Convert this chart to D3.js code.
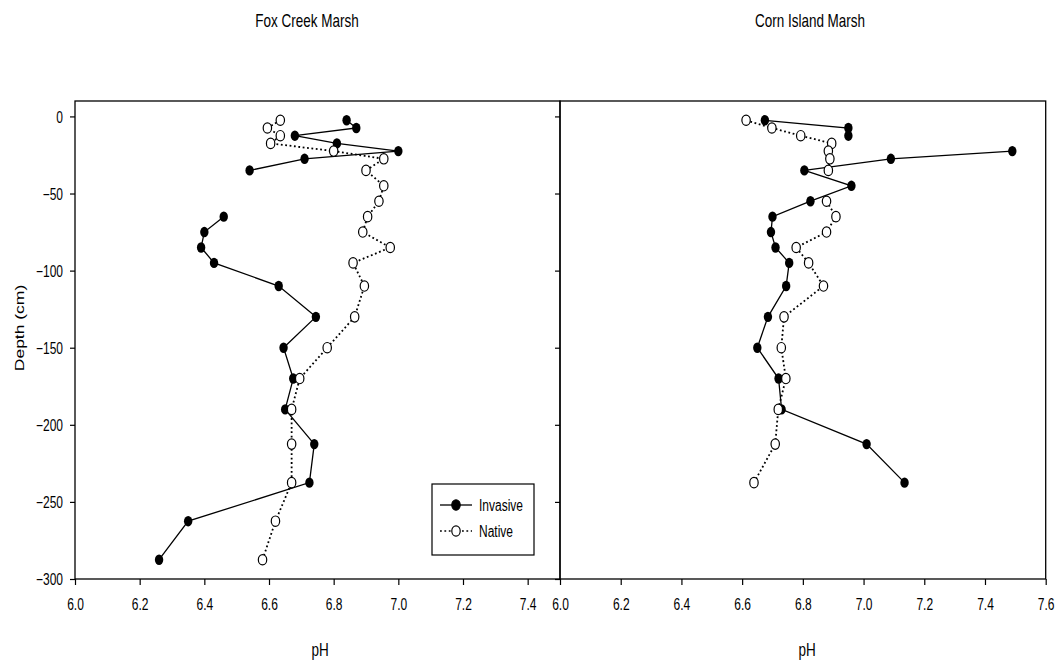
<!DOCTYPE html>
<html>
<head>
<meta charset="utf-8">
<script src="https://cdn.jsdelivr.net/npm/d3@7"></script>
<style>
  html, body { margin: 0; padding: 0; background: #fff; }
  svg { display: block; }
  text { font-family: "Liberation Sans", Arial, Helvetica, sans-serif; fill: #000; }
</style>
</head>
<body>
<svg id="chart" width="1061" height="667"></svg>
<script>
// Soil pH profiles by depth (cm) at two marshes, invasive vs native stands.
const foxDepth = [-2.5, -7.5, -12.5, -17.5, -22.5, -27.5, -35, -45, -55, -65, -75, -85, -95,
                  -110, -130, -150, -170, -190, -212.5, -237.5, -262.5, -287.5];
const foxInvasive = [6.84, 6.87, 6.68, 6.81, 7.00, 6.71, 6.54, null, null, 6.46, 6.40, 6.39, 6.43,
                     6.63, 6.745, 6.645, 6.675, 6.65, 6.74, 6.725, 6.35, 6.26];
const foxNative = [6.635, 6.595, 6.635, 6.605, 6.80, 6.955, 6.90, 6.955, 6.94, 6.905, 6.89, 6.975, 6.86,
                   6.895, 6.865, 6.78, 6.695, 6.67, 6.67, 6.67, 6.62, 6.58];

const cornDepth = [-2.5, -7.5, -12.5, -17.5, -22.5, -27.5, -35, -45, -55, -65, -75, -85, -95,
                   -110, -130, -150, -170, -190, -212.5, -237.5];
const cornInvasive = [6.675, 6.95, 6.95, null, 7.49, 7.09, 6.805, 6.96, 6.825, 6.70, 6.695, 6.71, 6.755,
                      6.745, 6.685, 6.65, 6.72, 6.73, 7.01, 7.135];
const cornNative = [6.613, 6.698, 6.793, 6.895, 6.884, 6.889, 6.884, null, 6.878, 6.909, 6.878, 6.778, 6.819,
                    6.868, 6.738, 6.729, 6.744, 6.719, 6.709, 6.639];

const panelTitles = ["Fox Creek Marsh", "Corn Island Marsh"];
const foxTicks = [6.0, 6.2, 6.4, 6.6, 6.8, 7.0, 7.2, 7.4];
const cornTicks = [6.0, 6.2, 6.4, 6.6, 6.8, 7.0, 7.2, 7.4, 7.6];
const depthTicks = [0, -50, -100, -150, -200, -250, -300];
const seriesNames = ["Invasive", "Native"];

const SX = 0.75; // horizontal squeeze applied to all lettering
const svg = d3.select("#chart");

const plotTop = 101, plotBottom = 579;
const y = d3.scaleLinear().domain([10, -300]).range([plotTop, plotBottom]);

const panels = [
  { title: panelTitles[0], depth: foxDepth, inv: foxInvasive, nat: foxNative,
    x: d3.scaleLinear().domain([6.0, 7.5]).range([75, 560]), ticks: foxTicks,
    titleX: 307, phX: 320, yLabels: true },
  { title: panelTitles[1], depth: cornDepth, inv: cornInvasive, nat: cornNative,
    x: d3.scaleLinear().domain([6.0, 7.6]).range([560, 1045.7]), ticks: cornTicks,
    titleX: 810, phX: 807, yLabels: false }
];

function label(sel, x, yPos, str, size, anchor, rot) {
  return sel.append("text")
    .attr("transform", `translate(${x},${yPos}) scale(${SX},1)` + (rot ? ` rotate(${rot})` : ""))
    .attr("text-anchor", anchor || "middle")
    .style("font-size", size + "px")
    .text(str);
}

panels.forEach(p => {
  const g = svg.append("g");
  const [x0, x1] = p.x.range();

  // x axis
  const xAxis = d3.axisBottom(p.x).tickValues(p.ticks).tickFormat(d3.format(".1f"))
    .tickSize(6).tickSizeOuter(0);
  const gx = g.append("g").attr("transform", `translate(0,${plotBottom})`).call(xAxis);
  gx.select(".domain").remove();
  gx.selectAll("line").attr("stroke", "#000").attr("stroke-width", 1.2);
  gx.selectAll("text")
    .attr("y", 31).attr("dy", 0)
    .attr("transform", `scale(${SX},1)`)
    .style("font-size", "16px").style("font-family", "'Liberation Sans', Arial, sans-serif");

  // y axis
  const yAxis = d3.axisLeft(y).tickValues(depthTicks).tickFormat(d3.format("d"))
    .tickSize(5).tickSizeOuter(0);
  const gy = g.append("g").attr("transform", `translate(${x0},0)`).call(yAxis);
  gy.select(".domain").remove();
  gy.selectAll("line").attr("stroke", "#000").attr("stroke-width", 1.2);
  if (p.yLabels) {
    gy.selectAll("text")
      .attr("x", -16).attr("dy", "0.36em")
      .attr("transform", `scale(${SX},1)`)
      .style("font-size", "16px").style("font-family", "'Liberation Sans', Arial, sans-serif");
  } else {
    gy.selectAll("text").remove();
  }

  // frame
  g.append("rect").attr("x", x0).attr("y", plotTop)
    .attr("width", x1 - x0).attr("height", plotBottom - plotTop)
    .attr("fill", "none").attr("stroke", "#000").attr("stroke-width", 1.3);

  const invPts = p.depth.map((d, i) => ({ d, v: p.inv[i] }));
  const natPts = p.depth.map((d, i) => ({ d, v: p.nat[i] }));
  const line = d3.line().defined(o => o.v != null).x(o => p.x(o.v)).y(o => y(o.d));

  // invasive profile
  g.append("path").datum(invPts).attr("d", line)
    .attr("fill", "none").attr("stroke", "#000").attr("stroke-width", 1.3);
  g.selectAll(".inv").data(invPts.filter(o => o.v != null)).join("ellipse")
    .attr("class", "inv")
    .attr("cx", o => p.x(o.v)).attr("cy", o => y(o.d))
    .attr("rx", 4.2).attr("ry", 5.2).attr("fill", "#000");

  // native profile
  g.append("path").datum(natPts).attr("d", line)
    .attr("fill", "none").attr("stroke", "#000").attr("stroke-width", 1.8)
    .attr("stroke-dasharray", "1.8,2.6");
  g.selectAll(".nat").data(natPts.filter(o => o.v != null)).join("ellipse")
    .attr("class", "nat")
    .attr("cx", o => p.x(o.v)).attr("cy", o => y(o.d))
    .attr("rx", 4.2).attr("ry", 5.2).attr("fill", "#fff")
    .attr("stroke", "#000").attr("stroke-width", 1.2);

  // titles
  label(svg, p.titleX, 27, p.title, 18);
  label(svg, p.phX, 656, "pH", 18);
});

// y-axis title
label(svg, 24, 328, "Depth (cm)", 17.5, "middle", -90);

// legend
const lg = svg.append("g");
lg.append("rect").attr("x", 432).attr("y", 484).attr("width", 102).attr("height", 71)
  .attr("fill", "#fff").attr("stroke", "#000").attr("stroke-width", 1.2);
const legendRows = [
  { name: seriesNames[0], y: 505, fill: "#000", dash: null, w: 1.3 },
  { name: seriesNames[1], y: 531, fill: "#fff", dash: "1.8,2.6", w: 1.6 }
];
legendRows.forEach(r => {
  lg.append("line").attr("x1", 440).attr("x2", 472).attr("y1", r.y).attr("y2", r.y)
    .attr("stroke", "#000").attr("stroke-width", r.w)
    .attr("stroke-dasharray", r.dash);
  lg.append("ellipse").attr("cx", 456).attr("cy", r.y).attr("rx", 4.2).attr("ry", 5.2)
    .attr("fill", r.fill).attr("stroke", "#000").attr("stroke-width", 1.2);
  label(lg, 479, r.y + 6, r.name, 16, "start");
});
</script>
</body>
</html>
